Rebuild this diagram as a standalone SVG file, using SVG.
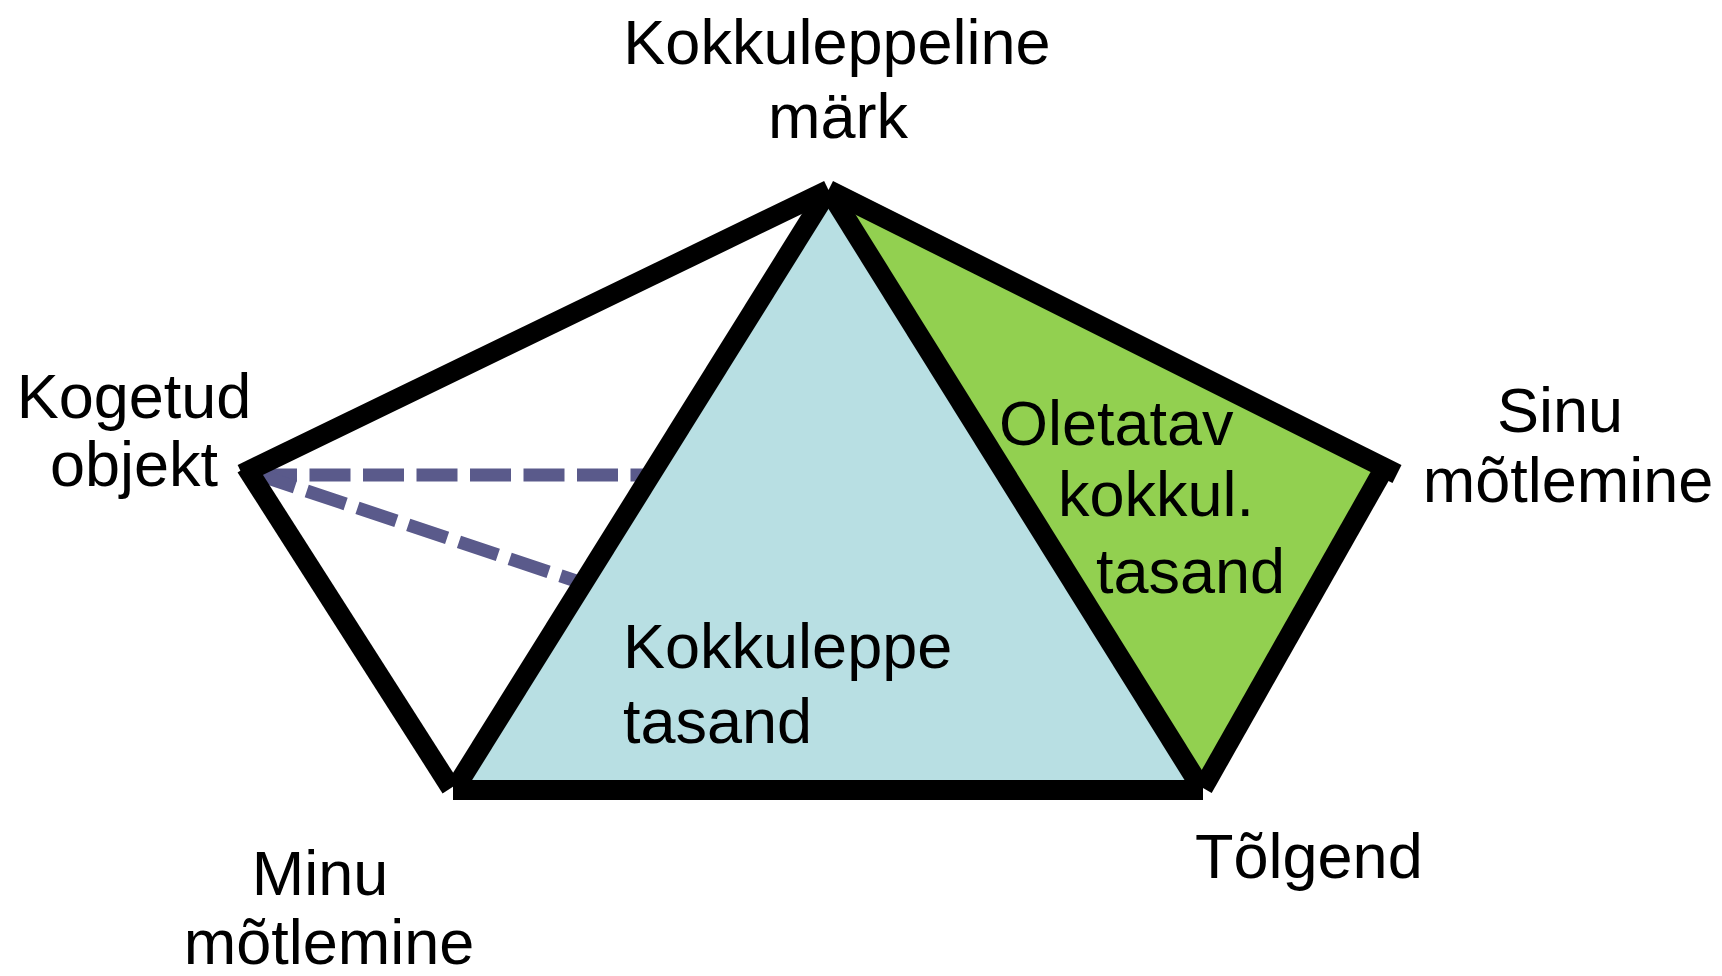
<svg xmlns="http://www.w3.org/2000/svg" width="1722" height="976" viewBox="0 0 1722 976">
<style>
.lbl{font-family:"Liberation Sans",Arial,sans-serif;font-size:63px;fill:#000}
.edge{stroke:#000;stroke-width:20;stroke-linecap:butt;fill:none}
.dash{stroke:#5a5a8b;stroke-width:13;stroke-dasharray:41 12.5;stroke-linecap:butt;fill:none}
</style>
<rect width="1722" height="976" fill="#fff"/>
<g id="connectors-dashed">
<line class="dash" x1="256" y1="475" x2="645" y2="475"/>
<line class="dash" x1="256" y1="474" x2="588" y2="585"/>
</g>
<g id="plane-kokkuleppe">
<polygon points="828.5,190 455,787 1200,787" fill="#b8dfe3"/>
</g>
<g id="plane-oletatav">
<polygon points="828.5,190 1384,472 1203,786" fill="#92d050"/>
</g>
<g id="connectors">
<line class="edge" x1="242" y1="474" x2="828.5" y2="190"/>
<line class="edge" x1="828.5" y1="190" x2="1397" y2="474"/>
<line class="edge" x1="1381" y1="474" x2="1203" y2="788"/>
<line class="edge" x1="828.5" y1="190" x2="1200" y2="786"/>
<line class="edge" x1="828.5" y1="190" x2="456" y2="787"/>
<line class="edge" x1="453" y1="790" x2="1203" y2="790"/>
<line class="edge" x1="246" y1="467" x2="451" y2="788"/>
</g>
<g id="node-mark">
<text class="lbl" x="837" y="64" text-anchor="middle">Kokkuleppeline</text>
<text class="lbl" x="838" y="138" text-anchor="middle">märk</text>
</g>
<g id="node-kogetud">
<text class="lbl" x="134" y="418" text-anchor="middle">Kogetud</text>
<text class="lbl" x="134" y="486" text-anchor="middle">objekt</text>
</g>
<g id="node-sinu">
<text class="lbl" x="1560" y="432" text-anchor="middle">Sinu</text>
<text class="lbl" x="1568" y="502" text-anchor="middle">mõtlemine</text>
</g>
<g id="node-minu">
<text class="lbl" x="320" y="895" text-anchor="middle">Minu</text>
<text class="lbl" x="329" y="964" text-anchor="middle">mõtlemine</text>
</g>
<g id="node-tolgend">
<text class="lbl" x="1195" y="878">Tõlgend</text>
</g>
<g id="label-kokkuleppe-tasand">
<text class="lbl" x="623" y="668">Kokkuleppe</text>
<text class="lbl" x="623" y="743">tasand</text>
</g>
<g id="label-oletatav">
<text class="lbl" x="999" y="445">Oletatav</text>
<text class="lbl" x="1058" y="516">kokkul.</text>
<text class="lbl" x="1096" y="593">tasand</text>
</g>
</svg>
